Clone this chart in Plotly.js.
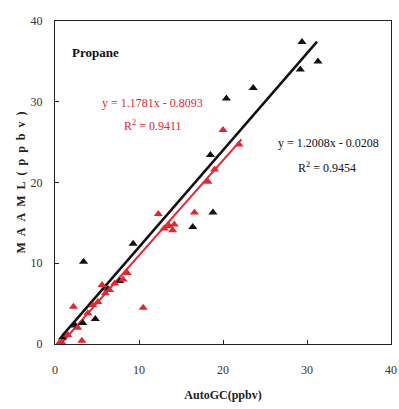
<!DOCTYPE html>
<html>
<head>
<meta charset="utf-8">
<script src="https://cdn.plot.ly/plotly-3.0.1.min.js"></script>
<style>html,body{margin:0;padding:0;background:#fff;}#chart{width:399px;height:409px;}</style>
</head>
<body>
<div id="chart"></div>
<script>
// MAAML vs AutoGC, propane (ppbv)
const blackX = [29.4, 31.3, 29.2, 23.6, 20.4, 18.5, 18.8, 16.4, 9.3, 3.4, 7.7, 6.3, 4.8, 3.3, 2.4, 1.4, 0.9];
const blackY = [37.4, 35.0, 34.0, 31.7, 30.4, 23.4, 16.3, 14.5, 12.4, 10.2, 7.8, 6.8, 3.1, 2.6, 2.3, 1.2, 0.8];
const redX = [20.0, 21.9, 19.0, 18.2, 16.6, 12.3, 13.0, 13.6, 14.2, 14.0, 10.5, 8.6, 8.1, 5.6, 7.1, 6.5, 6.0, 5.1, 4.5, 3.9, 2.7, 2.2, 1.5, 3.2, 0.8, 0.5];
const redY = [26.5, 24.7, 21.6, 20.1, 16.3, 16.1, 14.3, 14.6, 14.8, 14.1, 4.5, 8.8, 8.0, 7.3, 7.5, 6.7, 6.3, 5.2, 4.8, 3.8, 2.0, 4.6, 1.1, 0.4, 0.2, 0.1];
const blackFit = {slope: 1.2008, intercept: -0.0208, r2: 0.9454};
const redFit = {slope: 1.1781, intercept: -0.8093, r2: 0.9411};
const blackFitRange = [0.9, 31.2];
const redFitRange = [0.7, 22.2];
const tickVals = [0, 10, 20, 30, 40];

const BLACK = '#111111', RED = '#e5262f';
const fitLine = (f, r) => ({x: r, y: r.map(v => f.slope * v + f.intercept)});
const bl = fitLine(blackFit, blackFitRange), rl = fitLine(redFit, redFitRange);
const fmt = (f) => 'y = ' + f.slope.toFixed(4) + 'x - ' + Math.abs(f.intercept).toFixed(4);

const traces = [
  {x: bl.x, y: bl.y, mode: 'lines', line: {color: BLACK, width: 2.5}, hoverinfo: 'skip'},
  {x: rl.x, y: rl.y, mode: 'lines', line: {color: RED, width: 2}, hoverinfo: 'skip'},
  {x: blackX, y: blackY, mode: 'markers', marker: {symbol: 'triangle-up', size: 8, color: BLACK}},
  {x: redX, y: redY, mode: 'markers', marker: {symbol: 'triangle-up', size: 8, color: RED}}
];

const serif = 'Liberation Serif, Times New Roman, serif';
const sp = '\u2002';
const yTitle = ['M','A','A','M','L','(','p','p','b','v',')'].join(sp);
const layout = {
  width: 399, height: 409,
  margin: {l: 55, r: 8, t: 21, b: 65},
  showlegend: false,
  paper_bgcolor: '#fff', plot_bgcolor: '#fff',
  font: {family: serif, size: 12, color: '#333'},
  xaxis: {
    range: [0, 40], tickvals: tickVals, ticks: 'inside', ticklen: 4, tickcolor: '#222',
    ticklabelstandoff: 14,
    showgrid: false, zeroline: false, showline: true, mirror: true, linecolor: '#222', linewidth: 1.2,
    tickfont: {family: serif, size: 12, color: '#333'},
    title: {text: '<b>AutoGC(ppbv)</b>', font: {family: serif, size: 12, color: '#222'}, standoff: 15}
  },
  yaxis: {
    range: [0, 40], tickvals: tickVals, ticks: 'inside', ticklen: 4, tickcolor: '#222',
    ticklabelstandoff: 9,
    showgrid: false, zeroline: false, showline: true, mirror: true, linecolor: '#222', linewidth: 1.2,
    tickfont: {family: serif, size: 12, color: '#333'},
    title: {text: '<b>' + yTitle + '</b>', font: {family: serif, size: 12, color: '#222'}, standoff: 2}
  },
  annotations: [
    {x: 1.8, y: 36.1, xref: 'x', yref: 'y', xanchor: 'left', text: '<b>Propane</b>', showarrow: false, font: {family: serif, size: 13, color: '#111'}},
    {x: 11.6, y: 29.8, xref: 'x', yref: 'y', text: fmt(redFit), showarrow: false, font: {family: serif, size: 12, color: RED}},
    {x: 11.7, y: 27.1, xref: 'x', yref: 'y', text: 'R<sup>2</sup> = ' + redFit.r2.toFixed(4), showarrow: false, font: {family: serif, size: 12, color: RED}},
    {x: 32.6, y: 24.9, xref: 'x', yref: 'y', text: fmt(blackFit), showarrow: false, font: {family: serif, size: 12, color: '#111'}},
    {x: 32.4, y: 21.8, xref: 'x', yref: 'y', text: 'R<sup>2</sup> = ' + blackFit.r2.toFixed(4), showarrow: false, font: {family: serif, size: 12, color: '#111'}}
  ]
};
Plotly.newPlot('chart', traces, layout, {displayModeBar: false, staticPlot: true});
</script>
</body>
</html>
